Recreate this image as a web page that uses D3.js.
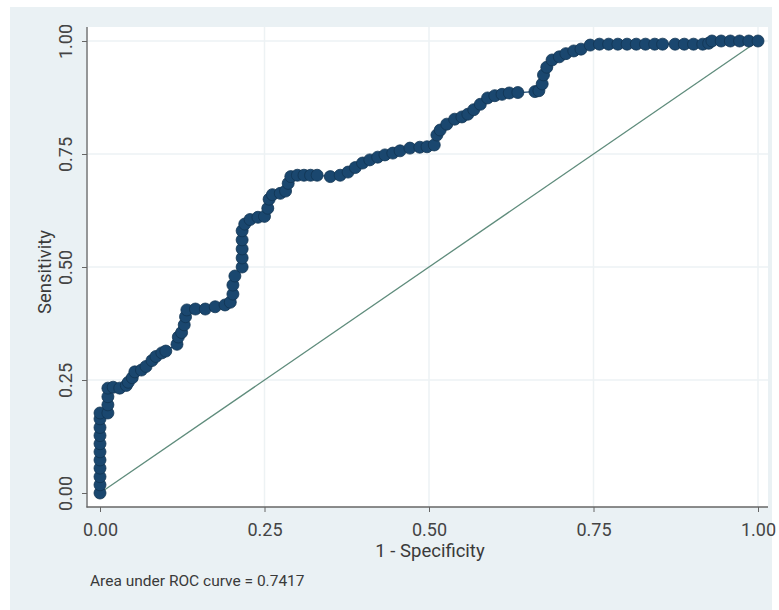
<!DOCTYPE html>
<html>
<head>
<meta charset="utf-8">
<script src="https://cdn.jsdelivr.net/npm/d3@7"></script>
<style>
  body { margin: 0; background: #fff; }
  text { font-family: Roboto, "Noto Sans", sans-serif; fill: #3a3a3a; }
</style>
</head>
<body>
<svg id="chart" width="779" height="610"></svg>
<script>
// ROC points (1 - specificity, sensitivity)
const fpr = [
  0, 0, 0, 0, 0, 0, 0, 0, 0, 0, 0,
  0.012, 0.012, 0.012, 0.012,
  0.02, 0.03, 0.04, 0.043, 0.049, 0.053, 0.063, 0.07, 0.079, 0.085, 0.094, 0.1,
  0.117, 0.119, 0.124, 0.128, 0.13, 0.132, 0.145, 0.16, 0.175, 0.19, 0.198,
  0.202, 0.202, 0.205, 0.216, 0.216, 0.216, 0.216, 0.216, 0.22, 0.228, 0.24, 0.25,
  0.255, 0.257, 0.262, 0.274, 0.282, 0.286, 0.29, 0.3, 0.31, 0.32, 0.33,
  0.35, 0.365, 0.377, 0.388, 0.399, 0.41, 0.422, 0.433, 0.445, 0.456, 0.471, 0.486, 0.497, 0.508,
  0.512, 0.517, 0.527, 0.539, 0.55, 0.559, 0.568, 0.578, 0.589, 0.6, 0.611, 0.622, 0.635,
  0.661, 0.667, 0.672, 0.674, 0.679, 0.687, 0.698, 0.708, 0.72, 0.731,
  0.745, 0.759, 0.773, 0.787, 0.801, 0.815, 0.829, 0.843, 0.855,
  0.874, 0.888, 0.902, 0.916, 0.925,
  0.93, 0.944, 0.958, 0.972, 0.986, 1
];
const tpr = [
  0, 0.018, 0.036, 0.055, 0.073, 0.091, 0.109, 0.127, 0.145, 0.164, 0.177,
  0.177, 0.195, 0.213, 0.232,
  0.234, 0.232, 0.238, 0.245, 0.255, 0.268, 0.272, 0.28, 0.293, 0.302, 0.31, 0.314,
  0.329, 0.345, 0.355, 0.372, 0.39, 0.405, 0.407, 0.407, 0.412, 0.416, 0.422,
  0.44, 0.46, 0.48, 0.5, 0.52, 0.54, 0.56, 0.58, 0.595, 0.605, 0.61, 0.612,
  0.63, 0.65, 0.66, 0.663, 0.668, 0.685, 0.7, 0.703, 0.703, 0.703, 0.703,
  0.7, 0.703, 0.71, 0.72, 0.73, 0.737, 0.743, 0.748, 0.752, 0.757, 0.763, 0.765, 0.766, 0.77,
  0.792, 0.803, 0.816, 0.827, 0.832, 0.838, 0.848, 0.86, 0.874, 0.879, 0.882, 0.885, 0.886,
  0.888, 0.89, 0.905, 0.925, 0.942, 0.958, 0.965, 0.972, 0.978, 0.982,
  0.991, 0.993, 0.993, 0.993, 0.993, 0.993, 0.993, 0.993, 0.993,
  0.993, 0.993, 0.993, 0.993, 0.995,
  1, 1, 1, 1, 1, 1
];
const ticks = [0, 0.25, 0.5, 0.75, 1];
const aucText = 'Area under ROC curve = 0.7417';

const svg = d3.select('#chart');

// graph region + plot region
svg.append('rect')
  .attr('x', 10).attr('y', 7).attr('width', 762).attr('height', 603)
  .attr('fill', '#eaf1f4');
svg.append('rect')
  .attr('x', 88).attr('y', 27).attr('width', 680).attr('height', 480)
  .attr('fill', '#ffffff');

const x = d3.scaleLinear().domain([0, 1]).range([100, 758]);
const y = d3.scaleLinear().domain([0, 1]).range([493, 41]);

// grid
const grid = svg.append('g');
grid.selectAll('line.gx')
  .data(ticks.slice(1))
  .join('line')
    .attr('x1', d => x(d)).attr('x2', d => x(d))
    .attr('y1', 27).attr('y2', 507)
    .attr('stroke', '#edf2f4').attr('stroke-width', 1.5);
grid.selectAll('line.gy')
  .data(ticks.slice(1))
  .join('line')
    .attr('y1', d => y(d)).attr('y2', d => y(d))
    .attr('x1', 88).attr('x2', 768)
    .attr('stroke', '#edf2f4').attr('stroke-width', 1.5);

// axes
const xAxis = svg.append('g')
  .attr('transform', 'translate(0,507)')
  .call(d3.axisBottom(x).tickValues(ticks).tickFormat(d3.format('.2f')).tickSize(5).tickPadding(11));
const yAxis = svg.append('g')
  .attr('transform', 'translate(87,0)')
  .call(d3.axisLeft(y).tickValues(ticks).tickFormat(d3.format('.2f')).tickSize(5).tickPadding(4));

[xAxis, yAxis].forEach(g => {
  g.select('.domain').remove();
  g.selectAll('.tick line').attr('stroke', '#666');
  g.selectAll('.tick text')
    .style('font-size', '18px')
    .style('fill', '#444');
});
yAxis.selectAll('.tick text')
  .attr('text-anchor', 'middle')
  .attr('transform', 'rotate(-90)')
  .attr('x', 0).attr('y', -15)
  .attr('dy', 0);

svg.append('line')
  .attr('x1', 87).attr('x2', 87).attr('y1', 27).attr('y2', 507.5)
  .attr('stroke', '#666').attr('stroke-width', 1.3);
svg.append('line')
  .attr('x1', 86.5).attr('x2', 768).attr('y1', 507).attr('y2', 507)
  .attr('stroke', '#666').attr('stroke-width', 1.3);

// reference line
svg.append('line')
  .attr('x1', x(0)).attr('y1', y(0)).attr('x2', x(1)).attr('y2', y(1))
  .attr('stroke', '#5f8c7c').attr('stroke-width', 1.3);

// curve
const pts = fpr.map((f, i) => [f, tpr[i]]);
svg.append('path')
  .datum(pts)
  .attr('d', d3.line().x(d => x(d[0])).y(d => y(d[1])))
  .attr('fill', 'none')
  .attr('stroke', '#1a476f').attr('stroke-width', 1.2);

svg.append('g')
  .selectAll('circle')
  .data(pts)
  .join('circle')
    .attr('cx', d => x(d[0]))
    .attr('cy', d => y(d[1]))
    .attr('r', 6)
    .attr('fill', '#1a476f')
    .attr('stroke', '#123553').attr('stroke-width', 0.8);

// titles
svg.append('text')
  .attr('x', 430).attr('y', 557)
  .attr('text-anchor', 'middle')
  .style('font-size', '18.5px')
  .text('1 - Specificity');
svg.append('text')
  .attr('transform', 'translate(51,272) rotate(-90)')
  .attr('text-anchor', 'middle')
  .style('font-size', '18.5px')
  .text('Sensitivity');
svg.append('text')
  .attr('x', 90).attr('y', 586)
  .style('font-size', '15.5px')
  .text(aucText);
</script>
</body>
</html>
